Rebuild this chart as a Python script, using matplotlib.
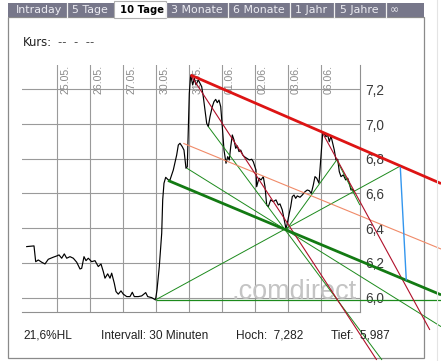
import matplotlib
matplotlib.use("Agg")
import matplotlib.pyplot as plt
from matplotlib.patches import Rectangle
from matplotlib.lines import Line2D

W, H = 441, 361

# ---------------- data ----------------
day_labels = ["25.05.", "26.05.", "27.05.", "30.05.", "31.05.", "01.06.", "02.06.", "03.06.", "06.06."]
day_pos = [1, 2, 3, 4, 5, 6, 7, 8, 9]
yticks = [6.0, 6.2, 6.4, 6.6, 6.8, 7.0, 7.2]
ytick_labels = ["6,0", "6,2", "6,4", "6,6", "6,8", "7,0", "7,2"]

price_t = [0.073, 0.294, 0.345, 0.424, 0.527, 0.627, 0.727, 0.879, 0.982, 1.052, 1.133, 1.212, 1.285,
           1.385, 1.485, 1.588, 1.688, 1.739, 1.809, 1.870, 1.939, 2.042, 2.142, 2.242, 2.324, 2.394,
           2.445, 2.527, 2.597, 2.648, 2.727, 2.779, 2.848, 2.930, 3.000, 3.103, 3.203, 3.273, 3.333,
           3.455, 3.558, 3.679, 3.739, 3.861, 3.976, 4.021, 4.091, 4.164, 4.194, 4.233, 4.285, 4.364,
           4.415, 4.515, 4.618, 4.667, 4.718, 4.788, 4.839, 4.900, 4.939, 5.000, 5.042, 5.103, 5.152,
           5.203, 5.273, 5.324, 5.376, 5.424, 5.476, 5.527, 5.576, 5.627, 5.697, 5.748, 5.800, 5.848,
           5.900, 5.952, 6.000, 6.052, 6.112, 6.164, 6.212, 6.255, 6.303, 6.355, 6.406, 6.455, 6.506,
           6.558, 6.618, 6.667, 6.739, 6.818, 6.891, 6.939, 7.021, 7.042, 7.112, 7.173, 7.242, 7.294,
           7.345, 7.394, 7.467, 7.545, 7.627, 7.697, 7.748, 7.818, 7.879, 7.930, 7.970, 8.030, 8.073,
           8.121, 8.173, 8.224, 8.273, 8.355, 8.424, 8.506, 8.576, 8.636, 8.697, 8.758, 8.809, 8.861,
           8.930, 8.982, 9.042, 9.082, 9.142, 9.194, 9.242, 9.294, 9.345, 9.394, 9.445, 9.497, 9.545,
           9.597, 9.667, 9.739, 9.800, 9.848, 9.900, 9.952, 10.000]
price_v = [6.294, 6.298, 6.207, 6.217, 6.204, 6.194, 6.221, 6.233, 6.240, 6.246, 6.227, 6.252, 6.227,
           6.236, 6.227, 6.204, 6.165, 6.169, 6.236, 6.213, 6.227, 6.207, 6.213, 6.179, 6.194, 6.150,
           6.112, 6.137, 6.112, 6.141, 6.083, 6.035, 6.020, 6.039, 6.020, 6.006, 6.006, 6.031, 6.006,
           6.006, 6.010, 6.029, 6.006, 6.000, 5.987, 6.044, 6.179, 6.371, 6.563, 6.659, 6.693, 6.678,
           6.678, 6.735, 6.822, 6.879, 6.889, 6.869, 6.850, 6.745, 6.754, 7.177, 7.282, 7.225, 7.263,
           7.225, 7.254, 7.235, 7.215, 7.157, 7.081, 7.004, 6.985, 7.042, 7.100, 7.129, 7.142, 7.123,
           7.138, 7.100, 6.985, 6.850, 6.774, 6.812, 6.793, 6.869, 6.937, 6.908, 6.860, 6.874, 6.841,
           6.850, 6.822, 6.812, 6.803, 6.793, 6.797, 6.783, 6.735, 6.639, 6.688, 6.678, 6.697, 6.639,
           6.534, 6.524, 6.563, 6.553, 6.563, 6.534, 6.540, 6.505, 6.447, 6.396, 6.428, 6.486, 6.524,
           6.582, 6.591, 6.572, 6.586, 6.578, 6.591, 6.610, 6.620, 6.616, 6.601, 6.649, 6.697, 6.688,
           6.659, 6.793, 6.947, 6.947, 6.927, 6.937, 6.898, 6.931, 6.889, 6.850, 6.793, 6.797, 6.726,
           6.697, 6.707, 6.678, 6.688, 6.659, 6.620, 6.624, 6.610]

# trend lines: (t0, v0, t1, v1)
red_main = (5.042, 7.282, 12.63, 6.657)
red_thin_1 = (5.042, 7.282, 10.68, 5.641)
red_thin_2 = (9.042, 6.947, 12.29, 5.814)
orange_line = (4.818, 6.889, 12.63, 6.280)
green_main = (4.355, 6.675, 12.63, 6.016)
green_level = (3.976, 5.987, 12.63, 5.987)
green_rise = (3.976, 5.987, 11.394, 6.758)
green_fan_1 = (4.930, 6.745, 12.63, 5.833)
green_fan_2 = (5.576, 6.985, 10.84, 5.641)
green_fan_3 = (7.952, 6.394, 9.467, 6.793)
green_drop = (9.467, 6.793, 10.17, 6.533)
blue_line = (11.394, 6.753, 11.576, 6.099)

tab_names = ["Intraday", "5 Tage", "10 Tage", "3 Monate", "6 Monate", "1 Jahr", "5 Jahre", "\u221e"]

# ---------------- figure ----------------
fig = plt.figure(figsize=(W / 100, H / 100), dpi=100)
fig.patch.set_facecolor("white")

def fx(px):
    return px / W

def fy(py):
    return 1 - py / H

# outer panel border
fig.add_artist(Rectangle((fx(8), fy(358)), fx(424) - fx(8), fy(17) - fy(358), transform=fig.transFigure,
                         facecolor="white", edgecolor="#8a8a8a", lw=0.9, zorder=0))
fig.add_artist(Line2D([fx(437), fx(437)], [0, 1], transform=fig.transFigure, color="#e4e4e4", lw=0.8))

# tab bar
fig.add_artist(Rectangle((fx(8), fy(17.3)), fx(424.3) - fx(8), fy(3.3) - fy(17.3), transform=fig.transFigure,
                         facecolor="#77778a", edgecolor="none", zorder=1))
tab_edges = [8.3, 67.3, 114.3, 165.7, 227.7, 290, 334, 385.5, 424.3]
tab_centers = [38.7, 90.0, 141.5, 196.7, 258.8, 310.8, 359.3, 394.7]
for i, name in enumerate(tab_names):
    x0, x1 = tab_edges[i], tab_edges[i + 1]
    if name == "10 Tage":
        fig.add_artist(Rectangle((fx(x0), fy(17.5)), fx(x1) - fx(x0), fy(0.5) - fy(17.5), transform=fig.transFigure,
                                 facecolor="white", edgecolor="#b0b0b0", lw=0.8, zorder=2))
        fig.text(fx(tab_centers[i]), fy(9.8), name, fontsize=7.2, fontweight="bold", color="black",
                 family="DejaVu Sans", va="center", ha="center", zorder=3)
    else:
        if i > 0:
            fig.add_artist(Line2D([fx(x0), fx(x0)], [fy(17.3), fy(3.3)], transform=fig.transFigure,
                                  color="#f0f0f0", lw=0.9, zorder=2))
        fig.text(fx(tab_centers[i]), fy(9.8), name, fontsize=7.9, color="#ececf2",
                 family="DejaVu Sans", va="center", ha="center", zorder=3)

fig.text(fx(23), fy(42), "Kurs:", fontsize=8.4, color="#222222", family="DejaVu Sans", va="center", ha="left")
fig.text(fx(58), fy(42), "--  -  --", fontsize=8.4, color="#555555", family="DejaVu Sans", va="center", ha="left")

# bottom info line
bot_font = dict(fontsize=8.6, color="#222222", family="Liberation Sans", va="center", ha="left")
fig.text(fx(23.5), fy(336), "21,6%HL", **bot_font)
fig.text(fx(101), fy(336), "Intervall: 30 Minuten", **bot_font)
fig.text(fx(236.5), fy(336), "Hoch:  7,282", **bot_font)
fig.text(fx(331), fy(336), "Tief:  5,987", **bot_font)

# ---------------- chart axes ----------------
ax = fig.add_axes([fx(22), fy(311.7), fx(360) - fx(22), fy(65) - fy(311.7)])
ax.set_facecolor("none")
ax.set_xlim(-0.0697, 10.173)
ax.set_ylim(5.919, 7.340)
for s in ["top", "left"]:
    ax.spines[s].set_visible(False)
ax.spines["right"].set_color("#909090")
ax.spines["bottom"].set_color("#909090")
ax.spines["right"].set_linewidth(0.8)
ax.spines["bottom"].set_linewidth(0.8)
ax.set_xticks(day_pos)
ax.set_xticklabels([])
ax.set_yticks(yticks)
ax.set_yticklabels(ytick_labels)
ax.yaxis.tick_right()
ax.tick_params(axis="both", length=0)
ax.tick_params(axis="y", pad=4.0, labelsize=9.8, labelcolor="#3a3a3a")
for lab in ax.get_yticklabels():
    lab.set_family("Liberation Sans")
    lab.set_va("center_baseline")
ax.grid(True, color="#9a9a9a", lw=0.8)
ax.set_axisbelow(True)

for pos, lab in zip(day_pos, day_labels):
    ax.text(pos + 0.085, 1.0, lab, transform=ax.get_xaxis_transform(), rotation=90, va="top", ha="left",
            fontsize=7.6, color="#8a8a8a", family="Liberation Sans", zorder=1)

# watermark
ax.text(8.17, 6.035, ".comdirect", fontsize=19.5, color="#c4c4c4", family="Liberation Sans",
        ha="center", va="center", zorder=1)

ax.plot(price_t, price_v, color="black", lw=0.85, zorder=4)

def seg(line, color, lw, z=5):
    t0, v0, t1, v1 = line
    ax.plot([t0, t1], [v0, v1], color=color, lw=lw, clip_on=False, zorder=z, solid_capstyle="butt")

seg(green_level, "#1c8a1c", 0.9)
seg(green_rise, "#1c8a1c", 0.7)
seg(green_fan_1, "#1c8a1c", 0.7)
seg(green_fan_2, "#1c8a1c", 0.7)
seg(green_fan_3, "#1c8a1c", 0.7)
seg(green_drop, "#1c8a1c", 0.7)
seg(orange_line, "#f08a68", 0.8)
seg(red_thin_1, "#b0102a", 0.8)
seg(red_thin_2, "#b0102a", 0.8)
seg(green_main, "#137a13", 2.0)
seg(red_main, "#dd1414", 2.0)
seg(blue_line, "#3396ee", 1.0)

fig.savefig("out.png", dpi=100)
